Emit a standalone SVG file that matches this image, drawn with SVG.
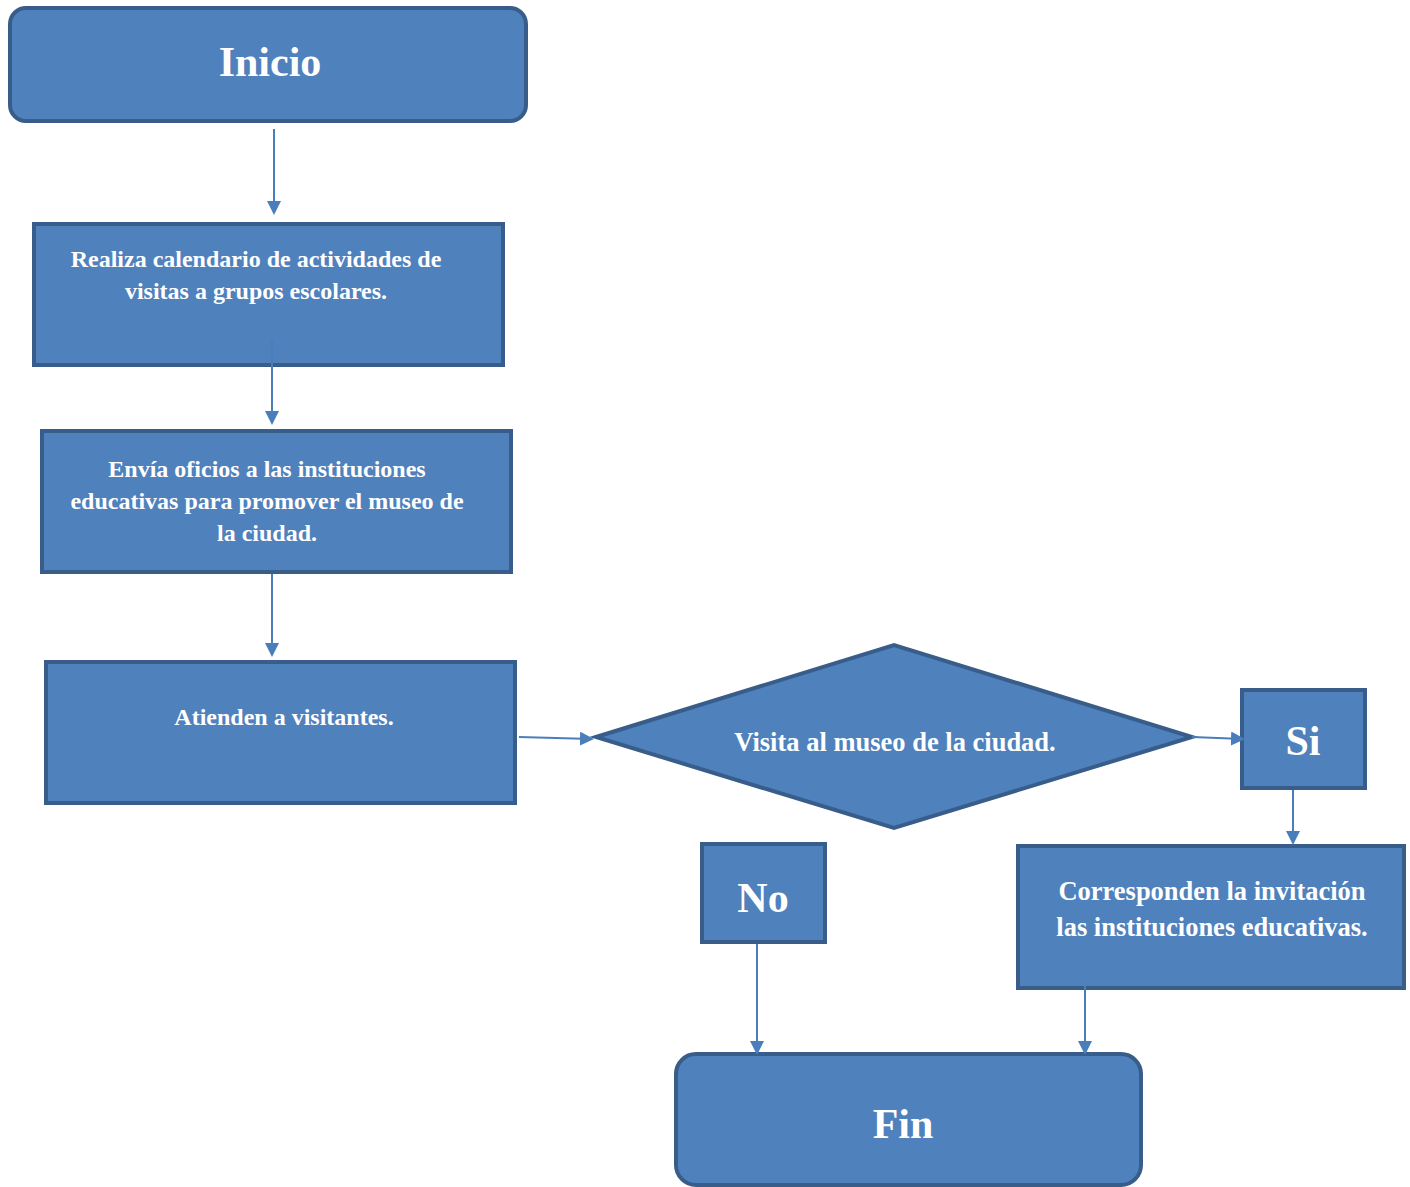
<svg xmlns="http://www.w3.org/2000/svg" width="1410" height="1187" viewBox="0 0 1410 1187">
<style>
.n{fill:#4F81BD;stroke:#385D8A;stroke-width:4}
.t{fill:#fff;font-family:"Liberation Serif","Times New Roman",serif;font-weight:bold;text-anchor:middle}
.s{font-size:24px}
.m{font-size:26.5px}
.b{font-size:42px}
.c{stroke:#4A7EBB;stroke-width:2;fill:none;marker-end:url(#ah)}
</style>
<defs>
<marker id="ah" markerWidth="14" markerHeight="14" refX="12" refY="7" orient="auto" markerUnits="userSpaceOnUse">
<path d="M0,0 L14,7 L0,14 Z" fill="#4A7EBB"/>
</marker>
</defs>
<rect width="1410" height="1187" fill="#fff"/>
<g id="inicio">
<rect class="n" x="10" y="8" width="516" height="113" rx="16"/>
<text class="t b" x="270" y="76">Inicio</text>
</g>
<g id="calendario">
<rect class="n" x="34" y="224" width="469" height="141"/>
<text class="t s" x="256" y="267">Realiza calendario de actividades de</text>
<text class="t s" x="256" y="299">visitas a grupos escolares.</text>
</g>
<g id="oficios">
<rect class="n" x="42" y="431" width="469" height="141"/>
<text class="t s" x="267" y="477">Envía oficios a las instituciones</text>
<text class="t s" x="267" y="509">educativas para promover el museo de</text>
<text class="t s" x="267" y="541">la ciudad.</text>
</g>
<g id="atienden">
<rect class="n" x="46" y="662" width="469" height="141"/>
<text class="t s" x="284" y="725">Atienden a visitantes.</text>
</g>
<g id="decision">
<polygon class="n" points="596,737 894,645 1192,737 894,828"/>
<text class="t m" x="895" y="751">Visita al museo de la ciudad.</text>
</g>
<g id="si">
<rect class="n" x="1242" y="690" width="123" height="98"/>
<text class="t b" x="1303" y="755">Si</text>
</g>
<g id="corresponden">
<rect class="n" x="1018" y="846" width="386" height="142"/>
<text class="t m" x="1212" y="900">Corresponden la invitación</text>
<text class="t m" x="1212" y="936">las instituciones educativas.</text>
</g>
<g id="no">
<rect class="n" x="702" y="844" width="123" height="98"/>
<text class="t b" x="763" y="912">No</text>
</g>
<g id="fin">
<rect class="n" x="676" y="1054" width="465" height="131" rx="20"/>
<text class="t b" x="903" y="1138">Fin</text>
</g>
<g id="connectors">
<line class="c" x1="274" y1="129" x2="274" y2="213"/>
<line class="c" x1="272" y1="340" x2="272" y2="423"/>
<line class="c" x1="272" y1="574" x2="272" y2="655"/>
<line class="c" x1="519" y1="737" x2="592" y2="739"/>
<line class="c" x1="1192" y1="737" x2="1243" y2="739"/>
<line class="c" x1="1293" y1="790" x2="1293" y2="843"/>
<line class="c" x1="757" y1="944" x2="757" y2="1053"/>
<line class="c" x1="1085" y1="986" x2="1085" y2="1053"/>
</g>
</svg>
